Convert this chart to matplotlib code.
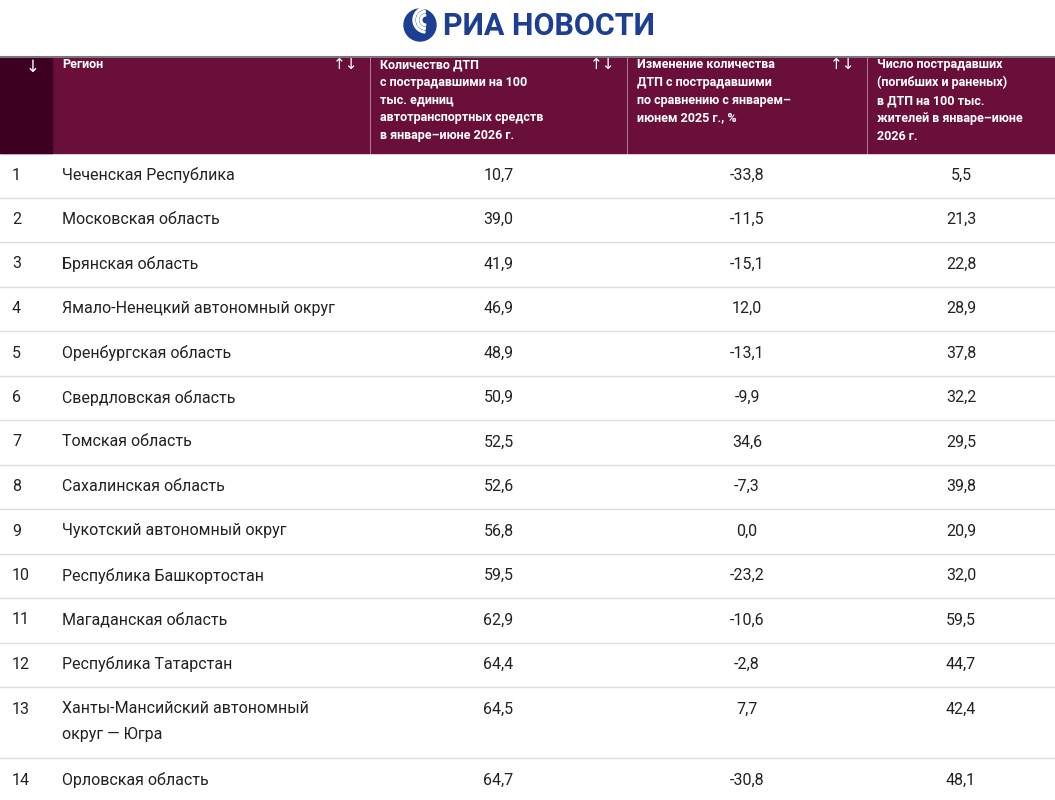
"""
Таблица: регионы с наименьшим числом ДТП с пострадавшими
"""

import matplotlib.pyplot as plt
from matplotlib.patches import Rectangle, Circle, Wedge

# 设置字体
plt.rcParams['font.family'] = ['Roboto', 'DejaVu Sans']

# ==================== 数据 ====================
HEADERS = ['Регион',
           'Количество ДТП\nс пострадавшими на 100\nтыс. единиц\nавтотранспортных средств\nв январе–июне 2026 г.',
           'Изменение количества\nДТП с пострадавшими\nпо сравнению с январем–\nиюнем 2025 г., %',
           'Число пострадавших\n(погибших и раненых)\nв ДТП на 100 тыс.\nжителей в январе–июне\n2026 г.']

ROWS = [
    ('Чеченская Республика', '10,7', '-33,8', '5,5'),
    ('Московская область', '39,0', '-11,5', '21,3'),
    ('Брянская область', '41,9', '-15,1', '22,8'),
    ('Ямало-Ненецкий автономный округ', '46,9', '12,0', '28,9'),
    ('Оренбургская область', '48,9', '-13,1', '37,8'),
    ('Свердловская область', '50,9', '-9,9', '32,2'),
    ('Томская область', '52,5', '34,6', '29,5'),
    ('Сахалинская область', '52,6', '-7,3', '39,8'),
    ('Чукотский автономный округ', '56,8', '0,0', '20,9'),
    ('Республика Башкортостан', '59,5', '-23,2', '32,0'),
    ('Магаданская область', '62,9', '-10,6', '59,5'),
    ('Республика Татарстан', '64,4', '-2,8', '44,7'),
    ('Ханты-Мансийский автономный\nокруг — Югра', '64,5', '7,7', '42,4'),
    ('Орловская область', '64,7', '-30,8', '48,1'),
]

COL_EDGES = [0, 52, 370, 627, 867, 1055]
HEADER_TOP, HEADER_BOTTOM = 57, 153
ROW_H = 44.5


def draw_logo(ax):
    """Логотип РИА Новости"""
    blue = '#1c3f94'
    ax.add_patch(Circle((420, 25), 16, color=blue))
    for r in (13, 9.5, 6):
        ax.add_patch(Wedge((426, 20), r, 95, 265, width=1.8, color='white'))
    ax.text(443, 26, 'РИА НОВОСТИ', fontsize=22, fontweight='bold',
            color=blue, va='center', ha='left')


def draw_table(ax):
    # шапка
    ax.add_patch(Rectangle((0, HEADER_TOP), 1055, HEADER_BOTTOM - HEADER_TOP, color='#6a0f3a'))
    ax.add_patch(Rectangle((0, HEADER_TOP), 52, HEADER_BOTTOM - HEADER_TOP, color='#3d0020'))
    ax.plot([0, 1055], [HEADER_TOP, HEADER_TOP], color='#777777', lw=1.5)
    for x in COL_EDGES[2:-1]:
        ax.plot([x, x], [HEADER_TOP, HEADER_BOTTOM], color='#b07090', lw=0.8)
    ax.text(33, 60, '↓', color='white', fontsize=12, ha='center', va='top')
    for i, h in enumerate(HEADERS):
        x0, x1 = COL_EDGES[i + 1], COL_EDGES[i + 2]
        ax.text(x0 + 10, 58, h, color='white', fontsize=9, fontweight='semibold',
                ha='left', va='top', linespacing=1.48)
        if i < 3:
            ax.text(x1 - 12, 58, '↑↓', color='white', fontsize=11, ha='right', va='top')

    # строки
    y = HEADER_BOTTOM
    for n, row in enumerate(ROWS, start=1):
        double = '\n' in row[0]
        h = ROW_H * (1.6 if double else 1.0)
        yc = y + 22
        ax.text(12, yc, str(n), fontsize=11.5, va='center', color='#222222')
        ax.text(62, yc - 8 if double else yc, row[0], fontsize=11.5,
                va='top' if double else 'center', color='#222222', linespacing=1.9)
        for j, val in enumerate(row[1:]):
            xc = (COL_EDGES[j + 2] + COL_EDGES[j + 3]) / 2
            ax.text(xc, yc, val, fontsize=11.5, ha='center', va='center', color='#222222')
        y += h
        if n < len(ROWS):
            ax.plot([0, 1055], [y, y], color='#dddddd', lw=1)


def main():
    fig = plt.figure(figsize=(10.55, 8.0), dpi=100)
    ax = fig.add_axes([0, 0, 1, 1])
    ax.set_xlim(0, 1055)
    ax.set_ylim(800, 0)
    ax.axis('off')

    draw_logo(ax)
    draw_table(ax)

    fig.savefig('out.png', dpi=100)


if __name__ == "__main__":
    main()
